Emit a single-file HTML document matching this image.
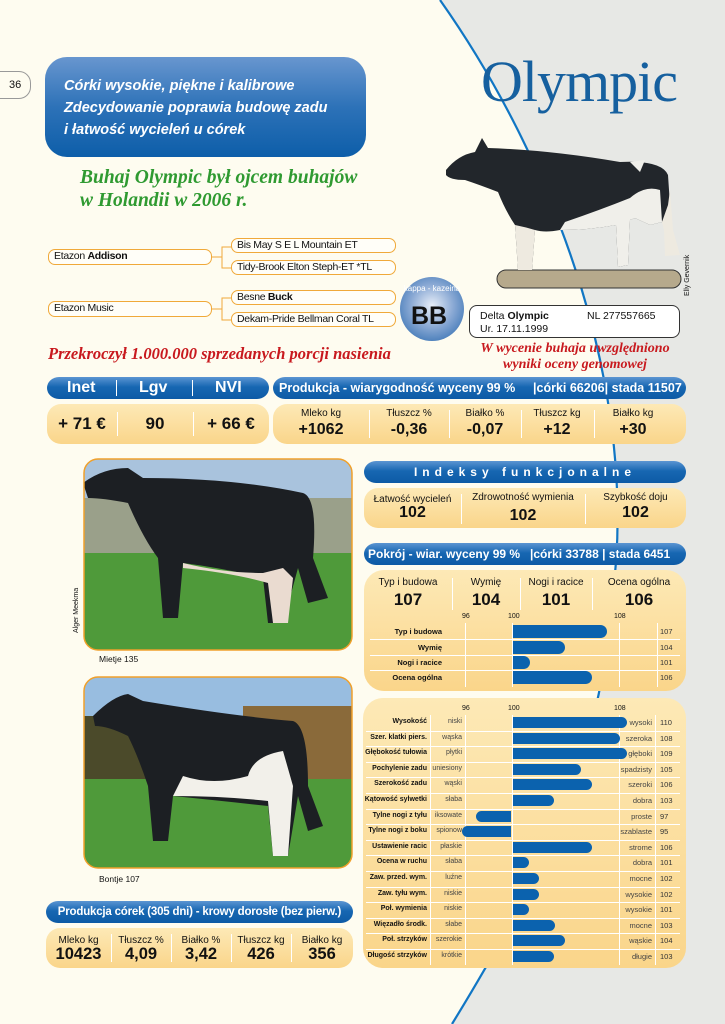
<!DOCTYPE html>
<html><head><meta charset="utf-8">
<style>
*{margin:0;padding:0;box-sizing:border-box}
body{width:725px;height:1024px;position:relative;overflow:hidden;background:#fefcf0;font-family:"Liberation Sans",sans-serif;color:#111}
.a{position:absolute}
.hdr{position:absolute;background:linear-gradient(#5b95d2,#1767b2 45%,#0d5aa6);border-radius:12px/11px;color:#fff;font-weight:bold;white-space:nowrap;overflow:hidden}
.box{position:absolute;background:linear-gradient(#fde9b6,#fad58a);border-radius:14px;}
.ped{position:absolute;border:1px solid #f0a93a;border-radius:7px;background:#fffef8;font-size:10.5px;padding-left:5px;line-height:13px;color:#111;white-space:nowrap;letter-spacing:-0.3px}
.sm{font-size:10px;text-align:center;position:absolute}
.big{font-weight:bold;text-align:center;position:absolute}
.dv{position:absolute;width:1px;background:#fff}
.lbl{position:absolute;font-size:7.5px;font-weight:bold;text-align:right;white-space:nowrap}
.l2{position:absolute;font-size:7.5px;color:#444;text-align:right;white-space:nowrap}
.v{position:absolute;font-size:7.5px;color:#333}
.bar{position:absolute;background:#0b62ae}
</style></head><body>
<svg class="a" style="left:0;top:0" width="725" height="1024">
<path d="M440 0 C560 170 640 400 612 600 C600 760 540 880 452 1024 L725 1024 L725 0 Z" fill="#e7e8e5"/>
<path d="M440 0 C560 170 640 400 612 600 C600 760 540 880 452 1024" fill="none" stroke="#1176c4" stroke-width="2.2"/>
</svg>
<div class="a" style="left:-10px;top:71px;width:41px;height:28px;border:1px solid #999;border-radius:0 12px 12px 0;font-size:11px;padding:7px 0 0 18px">36</div>
<div class="a" style="left:45px;top:57px;width:321px;height:100px;border-radius:22px;background:linear-gradient(#6896cf,#2d72b8 50%,#0d5ea9);color:#fff;font-style:italic;font-weight:bold;font-size:14.5px;line-height:22px;padding:18px 0 0 19px">Córki wysokie, piękne i kalibrowe<br>Zdecydowanie poprawia budowę zadu<br>i łatwość wycieleń u córek</div>
<div class="a" style="left:80px;top:166px;font-family:'Liberation Serif',serif;font-style:italic;font-weight:bold;font-size:19.5px;color:#2f9a31;line-height:23px">Buhaj Olympic był ojcem buhajów<br>w Holandii w 2006 r.</div>
<div class="a" style="left:481px;top:48px;font-family:'Liberation Serif',serif;font-size:58px;color:#16609f;letter-spacing:-1px">Olympic</div>
<svg class="a" style="left:212px;top:245px" width="20" height="80"><path d="M0 12H10V2H20M10 12V23H20M0 64H10V53H20M10 64V75H20" fill="none" stroke="#f0a93a" stroke-width="1"/></svg>
<div class="ped" style="left:48px;top:249px;width:164px;height:16px">Etazon <b>Addison</b></div>
<div class="ped" style="left:231px;top:238px;width:165px;height:15px">Bis May S E L Mountain ET</div>
<div class="ped" style="left:231px;top:260px;width:165px;height:15px">Tidy-Brook Elton Steph-ET *TL</div>
<div class="ped" style="left:48px;top:301px;width:164px;height:16px">Etazon Music</div>
<div class="ped" style="left:231px;top:290px;width:165px;height:15px">Besne <b>Buck</b></div>
<div class="ped" style="left:231px;top:312px;width:165px;height:15px">Dekam-Pride Bellman Coral TL</div>
<!-- bull -->
<svg class="a" style="left:440px;top:130px" width="250" height="165">
<rect x="57" y="140" width="184" height="18" rx="9" fill="#b6a98c" stroke="#333" stroke-width="1"/>
<path d="M6 40 Q18 25 35 22 L42 8 L48 18 Q110 20 180 32 Q222 30 228 45 L230 75 L222 92 L210 95 L195 88 L190 90 L188 135 L178 137 L176 95 Q150 100 120 100 Q105 103 95 100 L92 140 L78 140 L75 95 Q65 80 58 62 Q40 55 25 50 Q10 50 6 45 Z" fill="#22262b"/>
<path d="M120 100 Q150 100 176 95 L178 137 L188 135 L190 90 L195 88 L210 95 L222 92 L220 60 Q205 55 190 68 Q160 80 125 92 Z" fill="#f0efea"/>
<path d="M75 95 L78 140 L92 140 L95 100 Q85 97 75 95 Z M222 92 L228 75 L230 60 L233 100 L240 125 L225 126 L224 100 Z" fill="#eeeae0"/>
<path d="M190 32 L205 30 L200 42 Z" fill="#f0efea"/>
</svg>
<div class="a" style="left:684px;top:296px;font-size:7px;transform:rotate(-90deg);transform-origin:0 0;white-space:nowrap">Elly Gevernik</div>
<!-- badge -->
<div class="a" style="left:400px;top:277px;width:64px;height:64px;border-radius:50%;background:radial-gradient(circle at 50% 45%,#e8eef8,#8aa9d4 45%,#1b5fa8);"></div>
<div class="a" style="left:400px;top:284px;width:64px;font-size:8px;color:#fff;text-align:center;white-space:nowrap">kappa - kazeina</div>
<div class="a" style="left:411px;top:302px;font-size:25px;font-weight:bold;color:#111">BB</div>
<div class="a" style="left:469px;top:305px;width:211px;height:33px;border:1px solid #333;border-radius:8px;background:#fff;font-size:10.5px;padding:4px 0 0 10px;line-height:13px">Delta <b>Olympic</b><span style="position:absolute;left:117px">NL 277557665</span><br>Ur. 17.11.1999</div>
<div class="a" style="left:48px;top:344px;font-family:'Liberation Serif',serif;font-style:italic;font-weight:bold;font-size:16.5px;color:#c8191e">Przekroczył 1.000.000 sprzedanych porcji nasienia</div>
<div class="a" style="left:460px;top:341px;width:230px;text-align:center;font-family:'Liberation Serif',serif;font-style:italic;font-weight:bold;font-size:14px;color:#c8191e;line-height:16px">W wycenie buhaja uwzględniono<br>wyniki oceny genomowej</div>
<!-- Inet -->
<div class="hdr" style="left:47px;top:377px;width:222px;height:22px;font-size:16px;line-height:22px">
<span class="a" style="left:20px">Inet</span><span class="a" style="left:92px">Lgv</span><span class="a" style="left:168px">NVI</span>
<span class="dv" style="left:69px;top:3px;height:16px"></span><span class="dv" style="left:145px;top:3px;height:16px"></span></div>
<div class="box" style="left:47px;top:404px;width:222px;height:40px">
<div class="big" style="left:0;width:70px;top:10px;font-size:17px">+ 71 €</div>
<div class="big" style="left:70px;width:76px;top:10px;font-size:17px">90</div>
<div class="big" style="left:146px;width:76px;top:10px;font-size:17px">+ 66 €</div>
<span class="dv" style="left:70px;top:8px;height:24px"></span><span class="dv" style="left:146px;top:8px;height:24px"></span></div>
<!-- Produkcja -->
<div class="hdr" style="left:273px;top:377px;width:413px;height:22px;font-size:12.5px;line-height:22px;padding-left:6px">Produkcja - wiarygodność wyceny 99 %<span class="a" style="left:260px">|córki 66206| stada 11507</span></div>
<div class="box" style="left:273px;top:404px;width:413px;height:40px">
<div class="sm" style="left:0;width:96px;top:4px">Mleko kg</div><div class="big" style="left:0;width:96px;top:17px;font-size:16px">+1062</div>
<div class="sm" style="left:96px;width:80px;top:4px">Tłuszcz %</div><div class="big" style="left:96px;width:80px;top:17px;font-size:16px">-0,36</div>
<div class="sm" style="left:176px;width:72px;top:4px">Białko %</div><div class="big" style="left:176px;width:72px;top:17px;font-size:16px">-0,07</div>
<div class="sm" style="left:248px;width:72px;top:4px">Tłuszcz kg</div><div class="big" style="left:248px;width:72px;top:17px;font-size:16px">+12</div>
<div class="sm" style="left:320px;width:80px;top:4px">Białko kg</div><div class="big" style="left:320px;width:80px;top:17px;font-size:16px">+30</div>
<span class="dv" style="left:96px;top:6px;height:28px"></span><span class="dv" style="left:176px;top:6px;height:28px"></span><span class="dv" style="left:248px;top:6px;height:28px"></span><span class="dv" style="left:321px;top:6px;height:28px"></span></div>
<!-- photos -->
<svg class="a" style="left:83px;top:458px" width="270" height="193">
<defs><clipPath id="c1"><rect x="1" y="1" width="268" height="191" rx="14"/></clipPath></defs>
<g clip-path="url(#c1)"><rect width="270" height="193" fill="#a9c3dd"/><rect y="40" width="270" height="60" fill="#9aa08a"/><rect y="95" width="270" height="100" fill="#4f9a3a"/>
<path d="M0 25 Q20 10 45 10 L60 20 Q150 20 220 35 Q235 40 230 100 L245 140 L225 145 L215 110 L200 165 L185 165 L180 120 Q140 110 100 105 L95 160 L80 160 L75 100 Q60 80 45 45 Q20 40 5 40 Z" fill="#1c1f23"/>
<path d="M100 105 Q140 115 180 115 L200 110 L210 120 L205 165 L190 165 L185 125 Q150 115 100 110 Z" fill="#eadbd0"/></g>
<rect x="1" y="1" width="268" height="191" rx="14" fill="none" stroke="#f0a02a" stroke-width="1.5"/></svg>
<div class="a" style="left:73px;top:633px;font-size:7px;transform:rotate(-90deg);transform-origin:0 0;white-space:nowrap">Alger Meekma</div>
<div class="a" style="left:99px;top:654px;font-size:8.5px">Mietje 135</div>
<svg class="a" style="left:83px;top:676px" width="270" height="193">
<defs><clipPath id="c2"><rect x="1" y="1" width="268" height="191" rx="14"/></clipPath></defs>
<g clip-path="url(#c2)"><rect width="270" height="193" fill="#98bde0"/><rect y="40" width="270" height="65" fill="#4b4a2a"/><rect x="160" y="30" width="110" height="80" fill="#8a6a3a"/><rect y="103" width="270" height="92" fill="#4f9a3a"/>
<path d="M10 40 Q30 20 45 18 L60 25 Q150 40 210 45 Q225 50 225 110 L240 150 L225 155 L215 120 L205 180 L190 180 L185 130 Q140 125 90 120 L85 165 L70 165 L65 110 Q55 80 45 60 Q25 50 12 50 Z" fill="#1c1f23"/>
<path d="M90 120 Q140 120 185 125 L190 180 L205 180 L210 110 L200 75 Q170 80 165 100 Q130 110 100 100 Z" fill="#f2f0ea"/></g>
<rect x="1" y="1" width="268" height="191" rx="14" fill="none" stroke="#f0a02a" stroke-width="1.5"/></svg>
<div class="a" style="left:99px;top:874px;font-size:8.5px">Bontje 107</div>
<!-- produkcja corek -->
<div class="hdr" style="left:46px;top:901px;width:307px;height:22px;font-size:11.5px;line-height:22px;text-align:center;letter-spacing:-0.2px">Produkcja córek (305 dni) - krowy dorosłe (bez pierw.)</div>
<div class="box" style="left:46px;top:928px;width:307px;height:40px">
<div class="sm" style="left:0;width:65px;top:7px">Mleko kg</div><div class="big" style="left:0;width:65px;top:17px;font-size:16.5px">10423</div>
<div class="sm" style="left:65px;width:60px;top:7px">Tłuszcz %</div><div class="big" style="left:65px;width:60px;top:17px;font-size:16.5px">4,09</div>
<div class="sm" style="left:125px;width:60px;top:7px">Białko %</div><div class="big" style="left:125px;width:60px;top:17px;font-size:16.5px">3,42</div>
<div class="sm" style="left:185px;width:60px;top:7px">Tłuszcz kg</div><div class="big" style="left:185px;width:60px;top:17px;font-size:16.5px">426</div>
<div class="sm" style="left:245px;width:62px;top:7px">Białko kg</div><div class="big" style="left:245px;width:62px;top:17px;font-size:16.5px">356</div>
<span class="dv" style="left:65px;top:6px;height:28px"></span><span class="dv" style="left:125px;top:6px;height:28px"></span><span class="dv" style="left:185px;top:6px;height:28px"></span><span class="dv" style="left:245px;top:6px;height:28px"></span></div>
<!-- Indeksy -->
<div class="hdr" style="left:364px;top:461px;width:322px;height:22px;font-size:12px;line-height:22px;text-align:center;letter-spacing:5px">Indeksy funkcjonalne</div>
<div class="box" style="left:364px;top:488px;width:322px;height:40px">
<div class="sm" style="left:0;width:97px;top:6px">Łatwość wycieleń</div><div class="big" style="left:0;width:97px;top:16px;font-size:16px">102</div>
<div class="sm" style="left:97px;width:124px;top:4px">Zdrowotność wymienia</div><div class="big" style="left:97px;width:124px;top:19px;font-size:16px">102</div>
<div class="sm" style="left:221px;width:101px;top:4px">Szybkość doju</div><div class="big" style="left:221px;width:101px;top:16px;font-size:16px">102</div>
<span class="dv" style="left:97px;top:6px;height:30px"></span><span class="dv" style="left:221px;top:6px;height:30px"></span></div>
<!-- Pokroj -->
<div class="hdr" style="left:364px;top:543px;width:322px;height:22px;font-size:12px;line-height:22px;padding-left:4px">Pokrój - wiar. wyceny 99 %<span class="a" style="left:166px">|córki 33788 | stada 6451</span></div>
<div class="box" style="left:364px;top:570px;width:322px;height:121px;border-radius:20px">
<div class="sm" style="left:0;width:88px;top:7px">Typ i budowa</div><div class="big" style="left:0;width:88px;top:20px;font-size:17px">107</div>
<div class="sm" style="left:88px;width:68px;top:7px">Wymię</div><div class="big" style="left:88px;width:68px;top:20px;font-size:17px">104</div>
<div class="sm" style="left:156px;width:72px;top:7px">Nogi i racice</div><div class="big" style="left:156px;width:72px;top:20px;font-size:17px">101</div>
<div class="sm" style="left:228px;width:94px;top:7px">Ocena ogólna</div><div class="big" style="left:228px;width:94px;top:20px;font-size:17px">106</div>
<span class="dv" style="left:88px;top:8px;height:32px"></span><span class="dv" style="left:156px;top:8px;height:32px"></span><span class="dv" style="left:228px;top:8px;height:32px"></span></div>
<div class="a" style="left:462px;top:613px;font-size:7px">96</div><div class="a" style="left:508px;top:613px;font-size:7px">100</div><div class="a" style="left:614px;top:613px;font-size:7px">108</div>
<div class="dv" style="left:465px;top:623px;height:64px"></div><div class="dv" style="left:512px;top:623px;height:64px"></div><div class="dv" style="left:619px;top:623px;height:64px"></div><div class="dv" style="left:657px;top:623px;height:64px"></div>
<div class="a" style="left:370px;top:639px;width:310px;height:1px;background:#fff"></div><div class="a" style="left:370px;top:655px;width:310px;height:1px;background:#fff"></div><div class="a" style="left:370px;top:670px;width:310px;height:1px;background:#fff"></div>
<div class="bar" style="left:513px;top:625px;width:94px;height:13px;border-radius:0 7px 7px 0"></div>
<div class="bar" style="left:513px;top:641px;width:52px;height:13px;border-radius:0 7px 7px 0"></div>
<div class="bar" style="left:513px;top:656px;width:17px;height:13px;border-radius:0 7px 7px 0"></div>
<div class="bar" style="left:513px;top:671px;width:79px;height:13px;border-radius:0 7px 7px 0"></div>
<div class="lbl" style="left:370px;width:72px;top:627px">Typ i budowa</div><div class="v" style="left:660px;top:627px">107</div>
<div class="lbl" style="left:370px;width:72px;top:643px">Wymię</div><div class="v" style="left:660px;top:643px">104</div>
<div class="lbl" style="left:370px;width:72px;top:658px">Nogi i racice</div><div class="v" style="left:660px;top:658px">101</div>
<div class="lbl" style="left:370px;width:72px;top:673px">Ocena ogólna</div><div class="v" style="left:660px;top:673px">106</div>
<!-- lower chart -->
<div class="box" style="left:363px;top:698px;width:323px;height:270px;border-radius:20px"></div>
<div class="a" style="left:462px;top:705px;font-size:7px">96</div><div class="a" style="left:508px;top:705px;font-size:7px">100</div><div class="a" style="left:614px;top:705px;font-size:7px">108</div>
<div class="dv" style="left:430px;top:715px;height:250px"></div><div class="dv" style="left:465px;top:715px;height:250px"></div><div class="dv" style="left:512px;top:715px;height:250px"></div><div class="dv" style="left:619px;top:715px;height:250px"></div><div class="dv" style="left:655px;top:715px;height:250px"></div>
<div id="rows"></div>
<script>
var d=[["Wysokość","niski","wysoki",110,627],["Szer. klatki piers.","wąska","szeroka",108,620],["Głębokość tułowia","płytki","głęboki",109,627],["Pochylenie zadu","uniesiony","spadzisty",105,581],["Szerokość zadu","wąski","szeroki",106,592],["Kątowość sylwetki","słaba","dobra",103,554],["Tylne nogi z tyłu","iksowate","proste",97,476],["Tylne nogi z boku","spionow","szablaste",95,462],["Ustawienie racic","płaskie","strome",106,592],["Ocena w ruchu","słaba","dobra",101,529],["Zaw. przed. wym.","luźne","mocne",102,539],["Zaw. tyłu wym.","niskie","wysokie",102,539],["Poł. wymienia","niskie","wysokie",101,529],["Więzadło środk.","słabe","mocne",103,555],["Poł. strzyków","szerokie","wąskie",104,565],["Długość strzyków","krótkie","długie",103,554]];
var h="";
for(var i=0;i<d.length;i++){var y=717+i*15.6;var r=d[i];
if(i>0)h+='<div class="a" style="left:366px;top:'+(y-2)+'px;width:314px;height:1px;background:#fff"></div>';
if(r[3]>=100)h+='<div class="bar" style="left:513px;top:'+(y)+'px;width:'+(r[4]-513)+'px;height:11px;border-radius:0 6px 6px 0"></div>';
else h+='<div class="bar" style="left:'+r[4]+'px;top:'+y+'px;width:'+(511-r[4])+'px;height:11px;border-radius:6px 0 0 6px"></div>';
h+='<div class="lbl" style="left:360px;width:67px;top:'+(y+1)+'px;font-size:7px">'+r[0]+'</div>';
h+='<div class="l2" style="left:430px;width:32px;top:'+(y+1)+'px;font-size:7px">'+r[1]+'</div>';
h+='<div class="l2" style="left:600px;width:52px;top:'+(y+1)+'px;font-size:7.5px">'+r[2]+'</div>';
h+='<div class="v" style="left:660px;top:'+(y+1)+'px">'+r[3]+'</div>';}
document.getElementById("rows").innerHTML=h;
</script>
</body></html>
